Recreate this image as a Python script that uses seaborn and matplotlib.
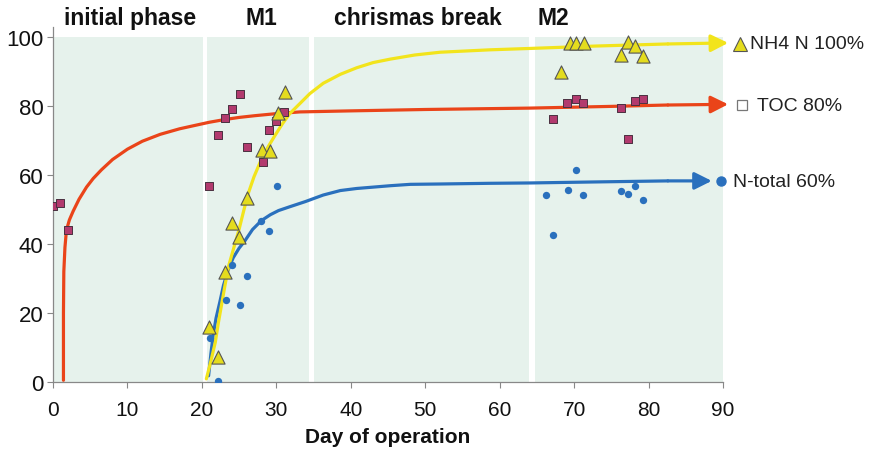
import matplotlib
matplotlib.use("Agg")
import matplotlib.pyplot as plt
import seaborn as sns
import pandas as pd

# ---------------- data ----------------
toc_day = [0, 0.9, 2.0, 21.0, 22.1, 23.1, 24.0, 25.1, 26.1, 28.2, 29.0, 30.0, 31.0,
           67.2, 69.1, 70.2, 71.2, 76.3, 77.2, 78.2, 79.3]
toc_val = [51, 51.8, 44, 56.9, 71.6, 76.4, 79.1, 83.5, 68.2, 63.9, 73.0, 75.7, 78.2,
           76.2, 80.9, 81.9, 80.9, 79.4, 70.4, 81.5, 82.0]

nh4_day = [21.0, 22.1, 23.1, 24.0, 25.0, 26.1, 28.1, 29.1, 30.2, 31.1,
           68.2, 69.4, 70.3, 71.3, 76.3, 77.2, 78.2, 79.3]
nh4_val = [16.0, 7.3, 31.8, 46.0, 42.1, 53.2, 67.2, 66.9, 78.0, 84.1,
           89.8, 98.3, 98.3, 98.3, 94.8, 98.7, 97.3, 94.4]

ntot_day = [21.1, 22.1, 23.2, 24.1, 25.1, 26.1, 28.0, 29.0, 30.1,
            66.2, 67.2, 69.2, 70.2, 71.2, 76.3, 77.2, 78.2, 79.3]
ntot_val = [12.7, 0.4, 23.8, 33.9, 22.4, 30.8, 46.6, 43.9, 56.7,
            54.3, 42.6, 55.7, 61.4, 54.3, 55.5, 54.5, 56.8, 52.8]

# hand-drawn trend curves
toc_curve_day = [1.4, 1.4, 1.45, 1.6, 1.8, 2.2, 2.7, 3.5, 4.5, 5.4, 6.5, 8.0, 10.0,
                 12.0, 14.4, 17.0, 19.1, 21.0, 23.1, 25.0, 27.1, 30.0, 33.2, 40.0,
                 50.0, 64.0, 75.0, 82.6, 90.7]
toc_curve_val = [0.5, 20, 32, 39, 44, 47, 49.5, 53, 56.5, 59, 61.5, 64.5, 67.5,
                 69.8, 71.8, 73.4, 74.4, 75.3, 76.1, 76.7, 77.2, 77.8, 78.3, 78.6,
                 79.0, 79.4, 79.9, 80.3, 80.5]

nh4_curve_day = [20.6, 21.2, 21.8, 22.2, 22.7, 23.1, 23.6, 24.3, 25.0, 25.6, 26.2,
                 27.0, 28.0, 28.9, 29.8, 30.8, 31.8, 33.2, 34.5, 36.3, 38.6, 40.8,
                 43.0, 45.3, 48.6, 52.0, 58.7, 64.1, 73.0, 82.6, 90.7]
nh4_curve_val = [0.9, 6.0, 11.5, 17.0, 23.1, 28.0, 33.7, 39.0, 44.3, 49.5, 54.5,
                 59.5, 64.6, 68.2, 71.4, 74.8, 77.8, 80.8, 83.6, 86.6, 89.2, 91.1,
                 92.6, 93.6, 94.8, 95.6, 96.3, 96.7, 97.4, 98.0, 98.3]

ntot_curve_day = [20.9, 21.2, 21.5, 21.9, 22.4, 22.9, 23.5, 24.2, 25.0, 25.8, 26.8,
                  28.0, 29.2, 30.3, 31.8, 33.9, 36.3, 38.6, 40.8, 45.3, 48.0, 52.0,
                  58.7, 64.1, 73.0, 82.6, 88.5]
ntot_curve_val = [1.8, 8.0, 13.4, 18.5, 23.1, 28.0, 32.3, 36.0, 38.8, 41.0, 44.2,
                  46.8, 48.5, 49.7, 50.8, 52.3, 54.2, 55.5, 56.1, 56.9, 57.3, 57.4,
                  57.6, 57.7, 58.0, 58.3, 58.3]

phase_names = ["initial phase", "M1", "chrismas break", "M2"]
phase_start = [0, 20.7, 35.1, 64.7]
phase_end = [20.2, 34.4, 64.0, 90]

series_labels = ["NH4 N 100%", "TOC 80%", "N-total 60%"]

x_ticks = [0, 10, 20, 30, 40, 50, 60, 70, 80, 90]
y_ticks = [0, 20, 40, 60, 80, 100]

# ---------------- style ----------------
sns.set_theme(style="white")
plt.rcParams["font.family"] = ["Liberation Sans", "DejaVu Sans"]

YELLOW = "#f2e41c"
RED = "#ea4419"
BLUE = "#2a70bd"
SHADE = "#e6f2ec"
LW = 2.3

fig = plt.figure(figsize=(8.78, 4.52), dpi=100)
ax = fig.add_axes([0.0604, 0.1527, 0.763, 0.786])

# background phase bands
for s, e in zip(phase_start, phase_end):
    ax.axvspan(s, e, ymin=0, ymax=100 / 103, color=SHADE, lw=0, zorder=0)

# phase labels
label_x = [10.4, 28.0, 49.0, 67.2]
for name, lx in zip(phase_names, label_x):
    ax.text(lx, 105.8, name, ha="center", va="center", fontsize=16.5,
            fontweight="bold", color="#111111", clip_on=False)

# curves
def curve(days, vals, color):
    df = pd.DataFrame({"day": days[:-1], "val": vals[:-1]})
    sns.lineplot(data=df, x="day", y="val", color=color, lw=LW, sort=False,
                 estimator=None, ax=ax, zorder=3)
    ax.annotate("", xy=(days[-1], vals[-1]), xytext=(days[-2], vals[-2]),
                arrowprops=dict(arrowstyle="-|>", color=color, lw=LW,
                                mutation_scale=26, shrinkA=0, shrinkB=0),
                annotation_clip=False, zorder=3)

curve(toc_curve_day, toc_curve_val, RED)
curve(ntot_curve_day, ntot_curve_val, BLUE)
curve(nh4_curve_day, nh4_curve_val, YELLOW)

# scatter points
sns.scatterplot(x=toc_day, y=toc_val, marker="s", s=26, color="#b23a6e",
                edgecolor="#4a3040", linewidth=0.7, ax=ax, zorder=4)
sns.scatterplot(x=ntot_day, y=ntot_val, marker="o", s=28, color=BLUE,
                edgecolor=BLUE, linewidth=0, ax=ax, zorder=4)
sns.scatterplot(x=nh4_day, y=nh4_val, marker="^", s=90, color="#e4dc1e",
                edgecolor="#555555", linewidth=0.8, ax=ax, zorder=5)

# right-hand labels with keys
ax.plot([92.3], [98.0], marker="^", ms=10, color="#e4dc1e", mec="#555555",
        mew=0.8, clip_on=False, ls="none")
ax.text(93.6, 98.0, series_labels[0], fontsize=14, va="center", ha="left",
        color="#222222", clip_on=False)
ax.plot([92.5], [80.3], marker="s", ms=6.5, color="white", mec="#777777",
        mew=0.9, clip_on=False, ls="none")
ax.text(94.6, 80.3, series_labels[1], fontsize=14, va="center", ha="left",
        color="#222222", clip_on=False)
ax.plot([89.7], [58.4], marker="o", ms=6.5, color=BLUE, mec=BLUE,
        clip_on=False, ls="none")
ax.text(91.3, 58.2, series_labels[2], fontsize=14, va="center", ha="left",
        color="#222222", clip_on=False)

# axes
ax.set_xlim(0, 90)
ax.set_ylim(0, 103)
ax.set_xticks(x_ticks)
ax.set_yticks(y_ticks)
ax.tick_params(axis="both", length=4, width=0.8, color="#888888",
               direction="out", labelsize=16, labelcolor="#111111", pad=3)
ax.tick_params(axis="x", labelsize=15, pad=9)
ax.tick_params(bottom=True, left=True)
for side in ["top", "right"]:
    ax.spines[side].set_visible(False)
for side in ["left", "bottom"]:
    ax.spines[side].set_color("#888888")
    ax.spines[side].set_linewidth(0.9)
ax.set_xlabel("Day of operation", fontsize=15, fontweight="bold",
              color="#111111", labelpad=6)
ax.set_ylabel("")
ax.set_facecolor("white")

fig.savefig("out.png", dpi=100)
